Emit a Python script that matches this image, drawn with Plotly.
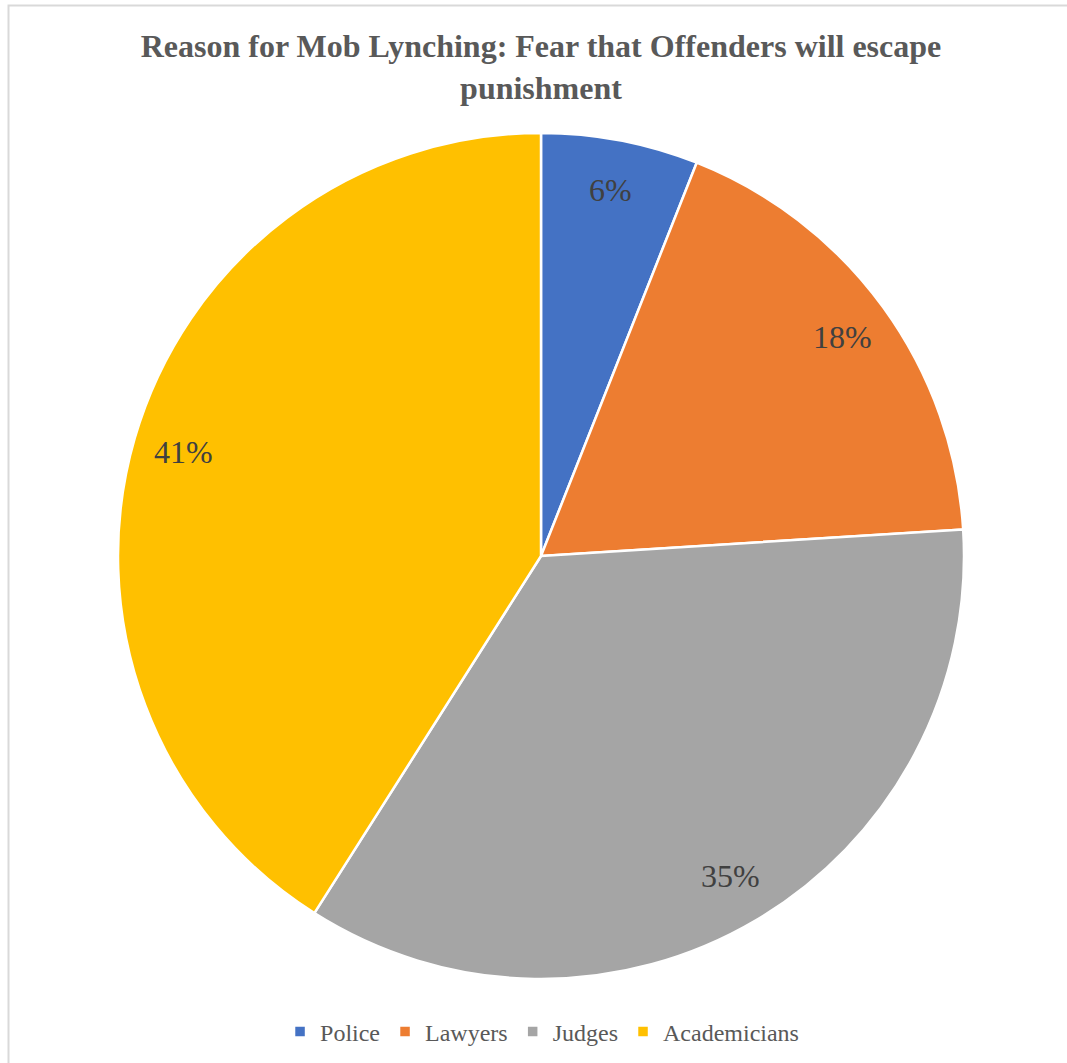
import math
import plotly.graph_objects as go

# Survey respondents citing fear that offenders will escape punishment
groups = ["Police", "Lawyers", "Judges", "Academicians"]
shares = [6, 18, 35, 41]
colors = ["#4472C4", "#ED7D31", "#A5A5A5", "#FFC000"]

SERIF = "'Liberation Serif', 'Times New Roman', 'DejaVu Serif', serif"

W, H = 1067, 1063
cx, cy, R = 541, 556, 423  # pie centre and radius in pixels

fig = go.Figure(
    go.Pie(
        labels=groups,
        values=shares,
        sort=False,
        direction="clockwise",
        rotation=0,
        textinfo="none",
        hoverinfo="label+percent",
        marker=dict(colors=colors, line=dict(color="white", width=2.5)),
        domain=dict(x=[(cx - R) / W, (cx + R) / W], y=[1 - (cy + R) / H, 1 - (cy - R) / H]),
    )
)

# Percentage labels placed near the outer rim at each slice's mid-angle
total = sum(shares)
cum = 0
annotations = []
for v in shares:
    mid = (cum + v / 2) / total * 2 * math.pi
    cum += v
    px = cx + 0.88 * R * math.sin(mid)
    py = cy - 0.88 * R * math.cos(mid)
    annotations.append(
        dict(
            x=px / W, y=1 - py / H, xref="paper", yref="paper",
            text=f"{round(v / total * 100)}%", showarrow=False,
            font=dict(family=SERIF, size=32, color="#404040"),
            xanchor="center", yanchor="middle",
        )
    )

fig.update_layout(
    width=W, height=H,
    margin=dict(l=0, r=0, t=0, b=0),
    paper_bgcolor="white",
    title=dict(
        text="Reason for Mob Lynching: Fear that Offenders will escape<br>punishment",
        x=541 / W, xanchor="center", y=1 - 57 / H, yanchor="middle",
        font=dict(family=SERIF, size=32, color="#595959", weight="bold"),
    ),
    legend=dict(
        orientation="h", x=0.508, xanchor="center", y=1 - 1032 / H, yanchor="middle",
        font=dict(family=SERIF, size=24, color="#595959"),
        itemwidth=30, traceorder="normal",
    ),
    annotations=annotations,
    shapes=[
        dict(type="rect", xref="paper", yref="paper",
             x0=8.5 / W, x1=1.05, y0=-0.05, y1=1 - 5.5 / H,
             line=dict(color="#D9D9D9", width=2), fillcolor="rgba(0,0,0,0)", layer="below"),
    ],
)

fig.write_html("out.html")
